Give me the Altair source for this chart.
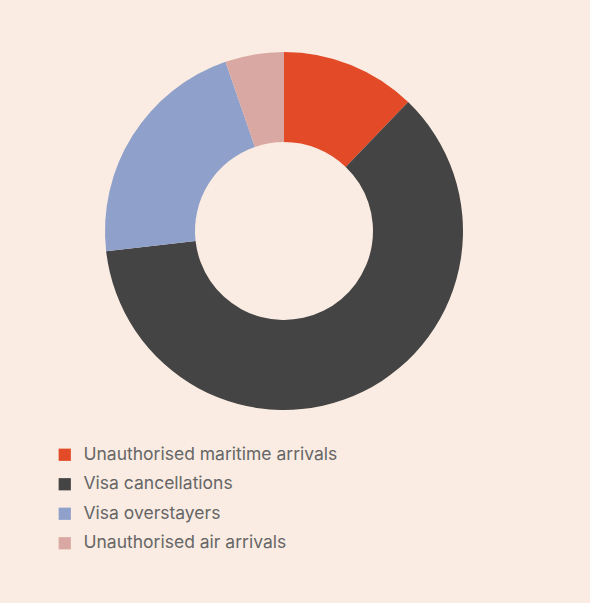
import altair as alt
import pandas as pd

categories = ["Unauthorised maritime arrivals", "Visa cancellations", "Visa overstayers", "Unauthorised air arrivals"]
values = [12.2, 61.0, 21.5, 5.3]
colors = ["#E34A27", "#444444", "#8FA0CA", "#D9A8A2"]

df = pd.DataFrame({"category": categories, "value": values, "order": list(range(len(categories)))})

chart = alt.Chart(df).mark_arc(innerRadius=89, outerRadius=179, stroke=None).encode(
    theta=alt.Theta("value:Q", stack=True),
    order=alt.Order("order:Q"),
    x=alt.value(284),
    y=alt.value(231),
    color=alt.Color(
        "category:N",
        scale=alt.Scale(domain=categories, range=colors),
        legend=alt.Legend(
            title=None,
            orient="none",
            legendX=56,
            legendY=446,
            symbolType="square",
            symbolSize=150,
            symbolStrokeWidth=0,
            labelFontSize=17.5,
            labelFont="Inter",
            labelColor="#666666",
            labelOffset=10,
            rowPadding=10.5,
            labelLimit=400,
        ),
    ),
).properties(
    width=590,
    height=603,
    autosize=alt.AutoSizeParams(type="none"),
    padding=0,
    background="#FAECE2",
).configure_view(stroke=None)

chart.save("out.html", embed_options={"renderer": "svg", "actions": False})
